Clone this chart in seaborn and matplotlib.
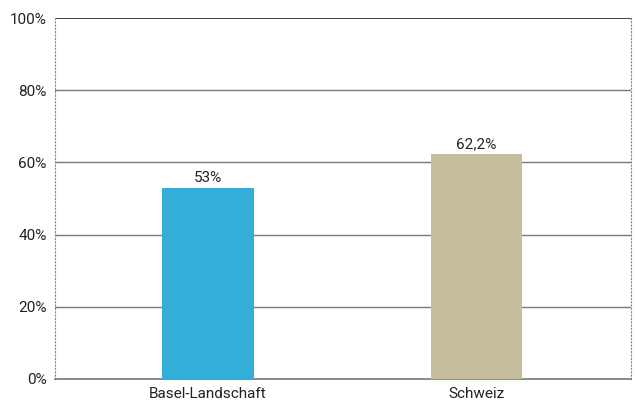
import matplotlib
matplotlib.use("Agg")
import matplotlib.pyplot as plt
import seaborn as sns
import pandas as pd
from matplotlib.ticker import FuncFormatter

regions = ["Basel-Landschaft", "Schweiz"]
values = [53.0, 62.2]
labels = ["53%", "62,2%"]
colors = ["#33aed8", "#c5bd9d"]

sns.set_style("white")
plt.rcParams["font.family"] = ["Roboto", "DejaVu Sans"]

df = pd.DataFrame({"region": regions, "value": values})

fig = plt.figure(figsize=(6.38, 4.03), dpi=100)
ax = fig.add_axes([55 / 638, 1 - 379 / 403, 576 / 638, 361 / 403])

sns.barplot(data=df, x="region", y="value", hue="region", palette=colors,
            width=0.34, saturation=1, linewidth=0, legend=False, ax=ax, zorder=3)

ax.set_ylim(0, 100)
ax.set_xlim(-0.571, 1.578)
ax.set_yticks(range(0, 101, 20))
ax.yaxis.set_major_formatter(FuncFormatter(lambda v, p: f"{int(v)}%"))
for y in range(20, 100, 20):
    ax.axhline(y, color="#777777", lw=1, zorder=1)
ax.axhline(100, color="#222222", lw=1.2, zorder=1)

for i, (v, t) in enumerate(zip(values, labels)):
    ax.text(i, v + 0.8, t, ha="center", va="bottom", fontsize=11, color="#222222")

for side in ["left", "right"]:
    ax.spines[side].set_visible(True)
    ax.spines[side].set_linestyle((0, (1, 2)))
    ax.spines[side].set_color("#888888")
    ax.spines[side].set_linewidth(0.8)
ax.spines["top"].set_visible(False)
ax.spines["bottom"].set_color("#777777")
ax.spines["bottom"].set_linewidth(1.2)

ax.set_xlabel("")
ax.set_ylabel("")
ax.tick_params(axis="both", length=0, labelsize=11, colors="#222222", pad=6)

fig.savefig("out.png", dpi=100)
